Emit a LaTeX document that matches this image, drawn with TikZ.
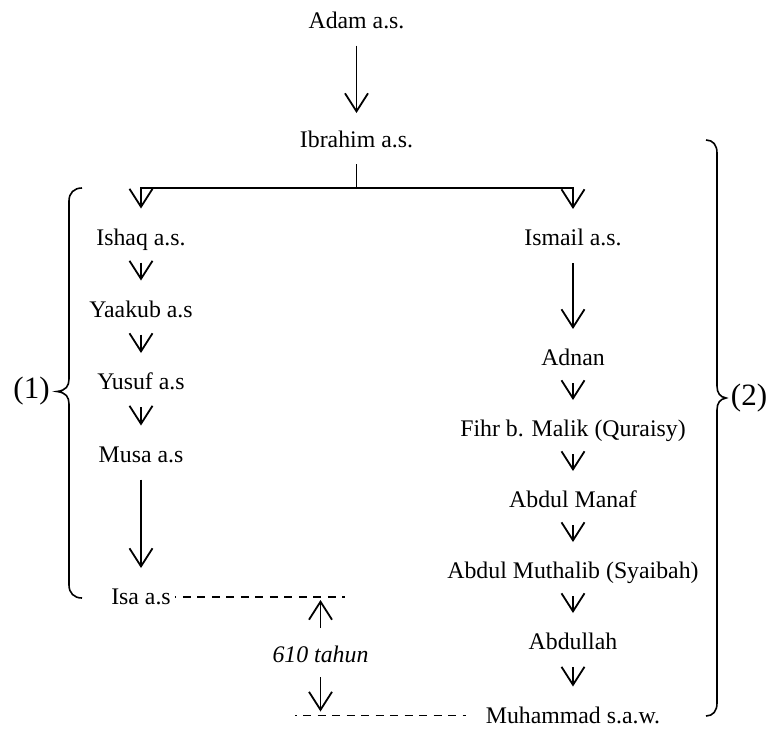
\documentclass[tikz,border=0pt]{standalone}
\usepackage{fontspec}
\setmainfont{Liberation Serif}
\usetikzlibrary{arrows.meta}
\begin{document}
\begin{tikzpicture}[x=1pt,y=-1pt,
  lbl/.style={inner sep=0pt, text height=15.6pt, text depth=0pt, font=\fontsize{23.8}{28}\selectfont},
  big/.style={inner sep=0pt, font=\fontsize{31}{36}\selectfont},
  arr/.style={line width=1.8pt, -{Straight Barb[length=18pt,width=23pt]}, shorten <=17pt, shorten >=21pt},
  plain/.style={line width=1.8pt},
  dashline/.style={line width=1.2pt, dash pattern=on 8pt off 6.5pt, dash phase=6.5pt},
  bracestyle/.style={line width=1.6pt}]
\useasboundingbox (0,0) rectangle (766,729);

% nodes
\node[lbl] (adam) at (356.5,20.5) {Adam a.s.};
\node[lbl] (ibr) at (356.5,140) {Ibrahim a.s.};
\node[lbl] (ishaq) at (141,237.5) {Ishaq a.s.};
\node[lbl] (yaakub) at (141,309.5) {Yaakub a.s};
\node[lbl] (yusuf) at (141,382) {Yusuf a.s};
\node[lbl] (musa) at (141,454.5) {Musa a.s};
\node[lbl] (isa) at (141,597) {Isa a.s};
\node[lbl] (ismail) at (573,238) {Ismail a.s.};
\node[lbl] (adnan) at (573,358) {Adnan};
\node[lbl] (fihr) at (573,429) {Fihr b. Malik (Quraisy)};
\node[lbl] (manaf) at (573,500) {Abdul Manaf};
\node[lbl] (muth) at (573,571) {Abdul Muthalib (Syaibah)};
\node[lbl] (abdullah) at (573,642) {Abdullah};
\node[lbl] (muh) at (573,715.5) {Muhammad s.a.w.};
\node[lbl, font=\fontsize{23.8}{28}\selectfont\itshape] (tahun) at (320.5,655) {610 tahun};
\node[big] (one) at (31.5,391) {(1)};
\node[big] (two) at (749,398) {(2)};

% coordinates
\coordinate (split) at (356.5,188);
\coordinate (isadashend) at (345,597);
\coordinate (topdash) at (320.5,597);
\coordinate (botdash) at (320.5,715.5);
\coordinate (mdstart) at (295,715.5);

% main connectors
\draw[arr, shorten >=19pt] (adam) -- (ibr);
\draw[plain, shorten <=16pt] (ibr) -- ([yshift=0.9pt]split);
\draw[arr, shorten <=0pt] (split) -| (ishaq.north);
\draw[arr, shorten <=0pt] (split) -| (ismail.north);

\draw[arr] (ishaq) -- (yaakub);
\draw[arr] (yaakub) -- (yusuf);
\draw[arr] (yusuf) -- (musa);
\draw[arr] (musa) -- (isa);

\draw[arr] (ismail) -- (adnan);
\draw[arr] (adnan) -- (fihr);
\draw[arr] (fihr) -- (manaf);
\draw[arr] (manaf) -- (muth);
\draw[arr] (muth) -- (abdullah);
\draw[arr] (abdullah) -- (muh);

% 610 tahun
\draw[dashline, shorten <=4pt] (isa) -- (isadashend);
\draw[dashline, shorten >=20pt] (mdstart) -- (muh);
\draw[arr, shorten <=19pt, shorten >=3pt] (tahun) -- (topdash);
\draw[arr, shorten <=14pt, shorten >=4pt] (tahun) -- (botdash);

% braces
\draw[bracestyle] (82,188) .. controls (74,188) and (69,193) .. (69,201)
  -- (69,379) .. controls (69,386) and (66,390.5) .. (57,391.5)
  .. controls (66,392.5) and (69,397) .. (69,404)
  -- (69,585) .. controls (69,593) and (74,598) .. (82,598);
\draw[bracestyle] (706,140) .. controls (713,140) and (717,145) .. (717,153)
  -- (717,386) .. controls (717,393) and (720,397) .. (726,398)
  .. controls (720,399) and (717,403) .. (717,410)
  -- (717,703) .. controls (717,711) and (713,716) .. (706,716);
\end{tikzpicture}
\end{document}
